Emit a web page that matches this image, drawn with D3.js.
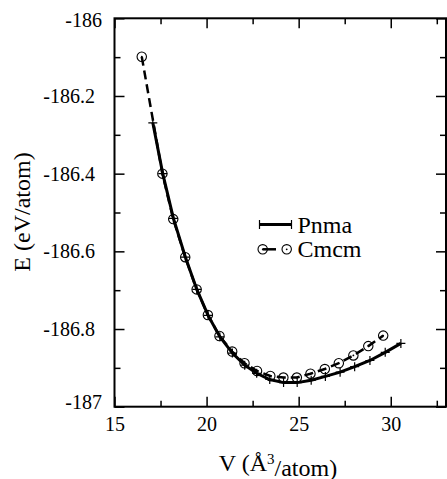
<!DOCTYPE html>
<html>
<head>
<meta charset="utf-8">
<script src="https://cdn.jsdelivr.net/npm/d3@7"></script>
<style>
  html, body { margin: 0; padding: 0; background: white; overflow: hidden; font-family: "Liberation Serif", serif; }
  svg { display: block; }
  svg text, svg tspan { font-family: "Liberation Serif", "Times New Roman", serif !important; }
</style>
</head>
<body>
<div id="chart"></div>
<script>
// Data
var pnmaV = [17.08, 17.62, 18.2, 18.85, 19.47, 20.08, 20.72, 21.4, 22.07, 22.72, 23.43,
             24.18, 24.92, 25.68, 26.45, 27.25, 28.04, 28.87, 29.70, 30.55];
var pnmaE = [-186.269, -186.40, -186.515, -186.615, -186.698, -186.765, -186.820, -186.862,
             -186.893, -186.914, -186.930, -186.938, -186.938, -186.932, -186.922, -186.911,
             -186.897, -186.881, -186.860, -186.837];
var cmcmV = [16.48, 17.6, 18.19, 18.84, 19.46, 20.07, 20.70, 21.39, 22.06, 22.74, 23.46,
             24.17, 24.90, 25.64, 26.42, 27.18, 27.97, 28.78, 29.59];
var cmcmE = [-186.099, -186.40, -186.517, -186.615, -186.698, -186.764, -186.818, -186.858,
             -186.888, -186.908, -186.921, -186.925, -186.925, -186.915, -186.903, -186.888,
             -186.868, -186.844, -186.817];
var xMajor = [15, 20, 25, 30];
var xMinor = [17.5, 22.5, 27.5, 32.5];
var yMajor = [-187, -186.8, -186.6, -186.4, -186.2, -186];
var yMinor = [-186.9, -186.7, -186.5, -186.3, -186.1];

var FONT = "Liberation Serif";

var pnma = pnmaV.map(function(v, i) { return { v: v, e: pnmaE[i] }; });
var cmcm = cmcmV.map(function(v, i) { return { v: v, e: cmcmE[i] }; });

var svg = d3.select("#chart").append("svg")
    .attr("width", 447)
    .attr("height", 479)
    .attr("font-family", FONT)
    .style("font-family", FONT);

var pLeft = 114.5, pRight = 446, pTop = 18.3, pBottom = 406.7;

var x = d3.scaleLinear().domain([15, 33]).range([pLeft, pRight]);
var y = d3.scaleLinear().domain([-187, -186]).range([pBottom, pTop]);

// axes: ticks pointing inward
function styleAxis(g) {
    g.attr("font-family", FONT);
    g.select(".domain").remove();
    g.selectAll(".tick line").attr("stroke", "black").attr("stroke-width", 1.5);
    g.selectAll(".tick text").attr("fill", "black")
        .attr("font-family", FONT)
        .style("font-size", "20px")
        .style("font-family", FONT);
}

// plain hyphen for negative numbers, like the original
function fmt(d) { return String(Math.round(d * 10) / 10); }

svg.append("g").attr("transform", "translate(0," + pBottom + ")")
    .call(d3.axisBottom(x).tickValues(xMajor).tickSize(-10).tickPadding(10).tickFormat(fmt))
    .call(styleAxis);
svg.append("g").attr("transform", "translate(0," + pBottom + ")")
    .call(d3.axisBottom(x).tickValues(xMinor).tickSize(-6).tickFormat(""))
    .call(styleAxis);
svg.append("g").attr("transform", "translate(0," + pTop + ")")
    .call(d3.axisTop(x).tickValues(xMajor).tickSize(-10).tickFormat(""))
    .call(styleAxis);
svg.append("g").attr("transform", "translate(0," + pTop + ")")
    .call(d3.axisTop(x).tickValues(xMinor).tickSize(-6).tickFormat(""))
    .call(styleAxis);

var yAxis = svg.append("g").attr("transform", "translate(" + pLeft + ",0)")
    .call(d3.axisLeft(y).tickValues(yMajor).tickSize(-10).tickPadding(19.5).tickFormat(fmt))
    .call(styleAxis);
yAxis.selectAll(".tick text")
    .attr("x", function(d) { return Number.isInteger(d) ? -12.5 : -19.5; })
    .attr("dy", function(d) { return d === -187 ? "0.1em" : (d === -186 ? "0.42em" : "0.32em"); });
svg.append("g").attr("transform", "translate(" + pLeft + ",0)")
    .call(d3.axisLeft(y).tickValues(yMinor).tickSize(-6).tickFormat(""))
    .call(styleAxis);
svg.append("g").attr("transform", "translate(" + pRight + ",0)")
    .call(d3.axisRight(y).tickValues(yMajor).tickSize(-10).tickFormat(""))
    .call(styleAxis);
svg.append("g").attr("transform", "translate(" + pRight + ",0)")
    .call(d3.axisRight(y).tickValues(yMinor).tickSize(-6).tickFormat(""))
    .call(styleAxis);

// frame
svg.append("rect")
    .attr("x", pLeft).attr("y", pTop)
    .attr("width", pRight - pLeft).attr("height", pBottom - pTop)
    .attr("fill", "none").attr("stroke", "black").attr("stroke-width", 2);

var line = d3.line().x(function(d) { return x(d.v); }).y(function(d) { return y(d.e); });

// Cmcm dashed line
svg.append("path").datum(cmcm)
    .attr("d", line)
    .attr("fill", "none").attr("stroke", "black")
    .attr("stroke-width", 2.5).attr("stroke-dasharray", "9,5");

// Pnma solid line
svg.append("path").datum(pnma)
    .attr("d", line)
    .attr("fill", "none").attr("stroke", "black")
    .attr("stroke-width", 3);

// symbols
function plus(g, cx, cy) {
    g.append("path")
        .attr("d", "M" + (cx - 4.5) + "," + cy + "H" + (cx + 4.5) + "M" + cx + "," + (cy - 4.5) + "V" + (cy + 4.5))
        .attr("stroke", "black").attr("stroke-width", 1.2).attr("fill", "none");
}
function dotCircle(g, cx, cy) {
    g.append("circle").attr("cx", cx).attr("cy", cy).attr("r", 4.7)
        .attr("fill", "none").attr("stroke", "black").attr("stroke-width", 1.1);
    g.append("circle").attr("cx", cx).attr("cy", cy).attr("r", 0.9).attr("fill", "black");
}

var marks = svg.append("g");
pnma.forEach(function(d) { plus(marks, x(d.v), y(d.e)); });
cmcm.forEach(function(d) { dotCircle(marks, x(d.v), y(d.e)); });

// legend
var lg = svg.append("g");
lg.append("line").attr("x1", 259.5).attr("x2", 291.5).attr("y1", 224.5).attr("y2", 224.5)
    .attr("stroke", "black").attr("stroke-width", 3);
lg.append("path").attr("d", "M259.5,220V229M291.5,220V229")
    .attr("stroke", "black").attr("stroke-width", 1.2);
lg.append("text").attr("x", 297.5).attr("y", 233)
    .attr("font-family", FONT).style("font-family", FONT)
    .style("font-size", "24px").text("Pnma");

lg.append("line").attr("x1", 262.7).attr("x2", 276).attr("y1", 249.3).attr("y2", 249.3)
    .attr("stroke", "black").attr("stroke-width", 2.5);
dotCircle(lg, 262.7, 249.3);
dotCircle(lg, 286.7, 249.3);
lg.append("text").attr("x", 297.5).attr("y", 257)
    .attr("font-family", FONT).style("font-family", FONT)
    .style("font-size", "24px").text("Cmcm");

// axis titles
var xt = svg.append("text")
    .attr("x", 278).attr("y", 471)
    .attr("text-anchor", "middle")
    .attr("font-family", FONT).style("font-family", FONT)
    .style("font-size", "24px");
xt.append("tspan").text("V (Å");
xt.append("tspan").attr("dy", "-0.5em").style("font-size", "15px").text("3");
xt.append("tspan").attr("dy", "0.5em").text("/atom)");

svg.append("text")
    .attr("transform", "translate(30,212) rotate(-90)")
    .attr("text-anchor", "middle")
    .attr("font-family", FONT).style("font-family", FONT)
    .style("font-size", "24px")
    .text("E (eV/atom)");
</script>
</body>
</html>
